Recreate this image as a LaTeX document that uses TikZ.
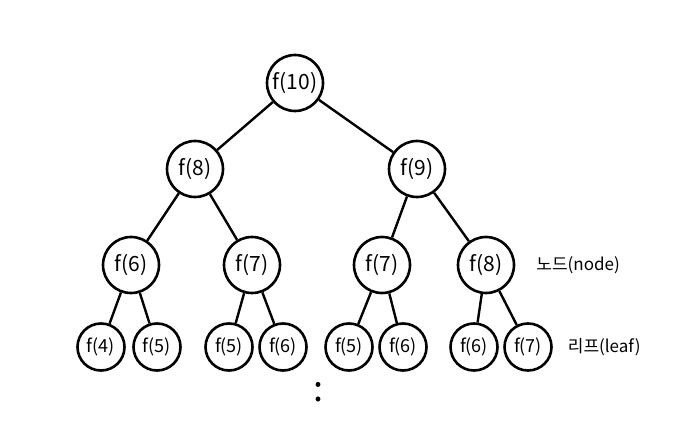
\documentclass[tikz,border=0pt]{standalone}
\usepackage{fontspec}
\setmainfont{Noto Sans CJK KR}
\usetikzlibrary{positioning}
\tikzset{>=latex}
\tikzset{
  fnode/.style={circle, draw=black, line width=1.3pt, minimum size=28pt,
    inner sep=0pt, font=\fontsize{10.5}{12}\selectfont},
  fleaf/.style={fnode, minimum size=23.5pt, font=\fontsize{9}{11}\selectfont},
  link/.style={line width=1.2pt},
  tag/.style={font=\fontsize{8.5}{10}\selectfont, anchor=west}
}
\begin{document}
\begin{tikzpicture}[x=0.5pt, y=-0.5pt]
        \useasboundingbox (0, 0) rectangle (699, 448); %
        % top levels
        \node[fnode] (f10) at (295, 83) {f(10)}; %
        \node[fnode] (f8) at (195, 169) {f(8)}; %
        \node[fnode] (f9) at (417, 169) {f(9)}; %
        \node[fnode] (f6a) at (131, 265) {f(6)}; %
        \node[fnode] (f7a) at (252, 265) {f(7)}; %
        \node[fnode] (f7b) at (382, 265) {f(7)}; %
        \node[fnode] (f8b) at (486, 265) {f(8)}; %
        % leaves
        \node[fleaf] (l1) at (101, 347) {f(4)}; %
        \node[fleaf] (l2) at (157, 347) {f(5)}; %
        \node[fleaf] (l3) at (229, 347) {f(5)}; %
        \node[fleaf] (l4) at (283, 347) {f(6)}; %
        \node[fleaf] (l5) at (349, 347) {f(5)}; %
        \node[fleaf] (l6) at (403, 347) {f(6)}; %
        \node[fleaf] (l7) at (474, 347) {f(6)}; %
        \node[fleaf] (l8) at (528, 347) {f(7)}; %
        \begin{scope}[link]
          \draw (f10) -- (f8); \draw (f10) -- (f9); %
          \draw (f8) -- (f6a); \draw (f8) -- (f7a); %
          \draw (f9) -- (f7b); \draw (f9) -- (f8b); %
          \draw (f6a) -- (l1); \draw (f6a) -- (l2); %
          \draw (f7a) -- (l3); \draw (f7a) -- (l4); %
          \draw (f7b) -- (l5); \draw (f7b) -- (l6); %
          \draw (f8b) -- (l7); \draw (f8b) -- (l8); %
        \end{scope}
        % labels on the right
        \node[tag, right=7pt of f8b] (nodetag) {노드(node)}; %
        \node[tag, right=4pt of l8] (leaftag) {리프(leaf)}; %
        % more below
        \node[font=\fontsize{18}{20}\selectfont] (more) at (318, 392) {:}; %
      \end{tikzpicture}
\end{document}
